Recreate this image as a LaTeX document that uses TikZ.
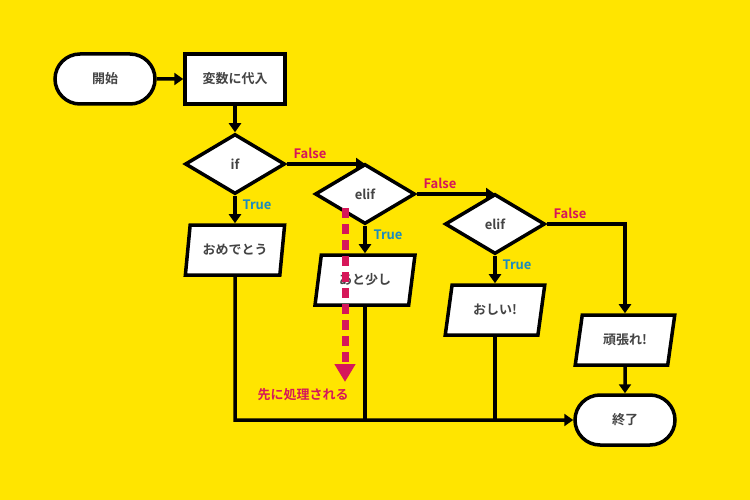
\documentclass[tikz,border=0pt]{standalone}
\usepackage{fontspec}
\setmainfont{Noto Sans CJK JP}[BoldFont={* Bold}]
\usetikzlibrary{shapes.geometric,shapes.misc,arrows.meta}
\definecolor{bg}{HTML}{FFE500}
\definecolor{mag}{HTML}{D6175A}
\definecolor{blu}{HTML}{1A8BC0}
\definecolor{txt}{HTML}{444444}
\begin{document}
\begin{tikzpicture}[x=1pt,y=-1pt,
 base/.style={draw=black,line width=3.5pt,fill=white,text=txt,font=\bfseries\fontsize{13}{13}\selectfont,inner sep=0pt},
 term/.style={base,rounded rectangle,minimum width=100pt,minimum height=50pt},
 box/.style={base,rectangle,minimum width=100pt,minimum height=50pt},
 dia/.style={base,diamond,aspect=1.67,minimum width=100pt,minimum height=60pt},
 io/.style={base,trapezium,trapezium left angle=73,trapezium right angle=107,trapezium stretches=true,minimum width=100pt,minimum height=50pt},
 ln/.style={line width=3.5pt},
 ar/.style={ln,-{Triangle[length=9pt,width=12pt]}},
 lf/.style={font=\bfseries\fontsize{13}{13}\selectfont,text=mag},
 lt/.style={font=\bfseries\fontsize{13}{13}\selectfont,text=blu}]
\fill[bg] (0,0) rectangle (750,500);
\useasboundingbox (0,0) rectangle (750,500);
\node[term] (start) at (105,79) {開始};
\node[box] (init) at (235,79) {変数に代入};
\node[dia] (if) at (235,164) {if};
\node[dia] (e1) at (365,194) {elif};
\node[dia] (e2) at (495,224) {elif};
\node[io] (p1) at (235,250) {おめでとう};
\node[io] (p2) at (365,280) {あと少し};
\node[io] (p3) at (495,310) {おしい!};
\node[io] (p4) at (625,340) {頑張れ!};
\node[term] (end) at (625,420) {終了};
\coordinate (c1) at (235,420);
\coordinate (c2) at (625,224);
\draw[ar] (start) -- (init);
\draw[ar] (init) -- (if);
\draw[ar] (if.east) -- (e1.north|-if.east);
\draw[ar] (e1.east) -- (e2.north|-e1.east);
\draw[ar] (if) -- (p1);
\draw[ar] (e1) -- (p2);
\draw[ar] (e2) -- (p3);
\draw[ar] (e2.east) -- (c2) -- (p4);
\draw[ar] (p4) -- (end);
\draw[ar] (p1.south) -- (c1) -- (end.west);
\draw[ln] (p2.south) -- (p2.south|-c1);
\draw[ln] (p3.south) -- (p3.south|-c1);
\node[lf] (f1) at (310,153) {False};
\node[lf] (f2) at (440,183) {False};
\node[lf] (f3) at (570,213) {False};
\node[lt] (t1) at (257,205) {True};
\node[lt] (t2) at (388,235) {True};
\node[lt] (t3) at (517,265) {True};
\coordinate (d1) at (345,208);
\coordinate (d2) at (345,382);
\draw[mag,line width=7pt,dash pattern=on 10pt off 6pt,-{Triangle[length=18pt,width=20pt]}] (d1) -- (d2);
\node[lf] (note) at (303,395) {先に処理される};
\end{tikzpicture}
\end{document}
